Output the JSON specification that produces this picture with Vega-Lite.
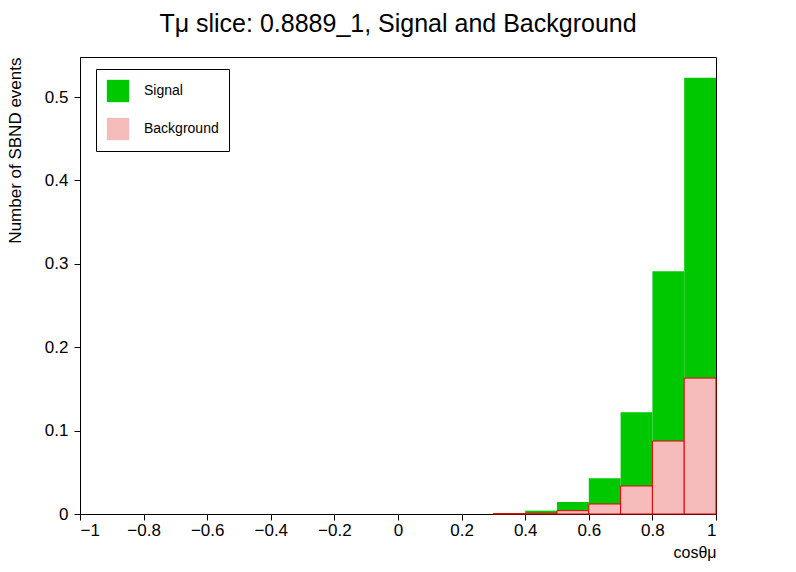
{
"$schema":"https://vega.github.io/schema/vega-lite/v6.json",
"width":636,"height":457,
"autosize":{"type":"none"},
"padding":{"left":80,"top":57,"right":80,"bottom":58},
"background":"white",
"config":{"font":"Liberation Sans","view":{"stroke":"black","strokeWidth":1}},
"title":{"text":"Tμ slice: 0.8889_1, Signal and Background","fontSize":25,"fontWeight":"normal","offset":20,"color":"black"},
"data":{"values":[
{"lo":0.3,"hi":0.4,"total":0.0012,"bkg":0.0003},
{"lo":0.4,"hi":0.5,"total":0.004,"bkg":0.001},
{"lo":0.5,"hi":0.6,"total":0.0144,"bkg":0.004},
{"lo":0.6,"hi":0.7,"total":0.043,"bkg":0.012},
{"lo":0.7,"hi":0.8,"total":0.122,"bkg":0.0336},
{"lo":0.8,"hi":0.9,"total":0.291,"bkg":0.0875},
{"lo":0.9,"hi":1.0,"total":0.523,"bkg":0.163}
]},
"layer":[
{"mark":{"type":"rect","fill":"#00c800"},
 "encoding":{
  "x":{"field":"lo","type":"quantitative","scale":{"domain":[-1,1],"nice":false},
   "axis":{"values":[-1,-0.8,-0.6,-0.4,-0.2,0,0.2,0.4,0.6,0.8,1],"format":"~g","tickSize":6,"labelFontSize":17,"labelColor":"black","domainColor":"black","tickColor":"black","grid":false,"labelPadding":2,
    "title":"cosθμ","titleAnchor":"end","titleFontSize":16,"titleFontWeight":"normal","titlePadding":6,"titleColor":"black"}},
  "x2":{"field":"hi"},
  "y":{"field":"total","type":"quantitative","scale":{"domain":[0,0.548],"nice":false},
   "axis":{"values":[0,0.1,0.2,0.3,0.4,0.5],"format":"~g","tickSize":6,"labelFontSize":17,"labelColor":"black","domainColor":"black","tickColor":"black","grid":false,"labelPadding":6,
    "title":"Number of SBND events","titleAnchor":"end","titleFontSize":17,"titleFontWeight":"normal","titlePadding":20,"titleColor":"black"}},
  "y2":{"datum":0}}},
{"mark":{"type":"rect","fill":"#f6bcbc","stroke":"#e00000","strokeWidth":1},
 "encoding":{"x":{"field":"lo","type":"quantitative"},"x2":{"field":"hi"},"y":{"field":"bkg","type":"quantitative"},"y2":{"datum":0}}},
{"data":{"values":[{"k":"Signal","o":0},{"k":"Background","o":1}]},
 "mark":{"type":"square","size":0,"filled":true},
 "encoding":{"color":{"field":"k","type":"nominal","scale":{"domain":["Signal","Background"],"range":["#00c800","#f6bcbc"]},
  "legend":{"title":null,"orient":"none","legendX":16,"legendY":12,"symbolType":"square","symbolSize":500,"symbolOpacity":1,"labelFontSize":14,"labelColor":"black","rowPadding":14,"padding":10,"strokeColor":"black","fillColor":"white","labelOffset":14,"offset":0}}}}
]
}
